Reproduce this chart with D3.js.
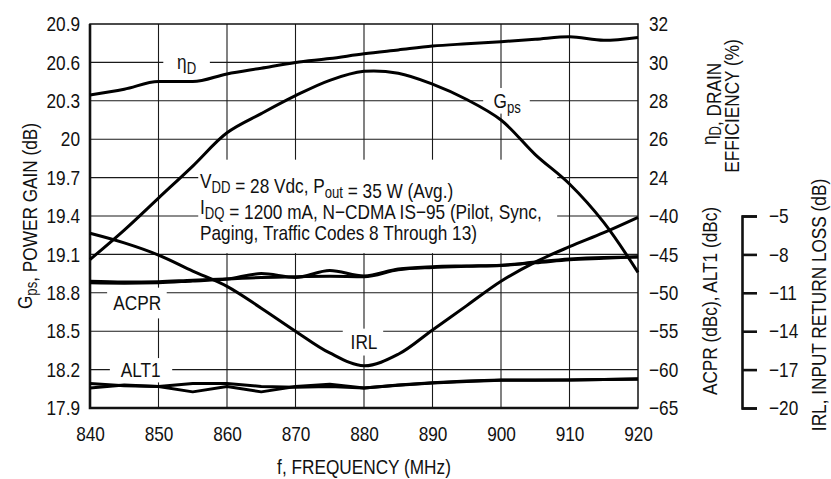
<!DOCTYPE html>
<html>
<head>
<meta charset="utf-8">
<script src="https://cdn.jsdelivr.net/npm/d3@7"></script>
<style>
  body { margin: 0; background: #fff; }
  svg { display: block; }
  text { font-family: "Liberation Sans", Arial, Helvetica, sans-serif; fill: #111; }
</style>
</head>
<body>
<svg id="chart" width="831" height="479"></svg>
<script>
// frequency sweep (MHz)
const freq = [840, 845, 850, 855, 860, 865, 870, 875, 880, 885, 890, 895, 900, 905, 910, 915, 920];
// power gain (dB)
const gps = [19.06, 19.29, 19.54, 19.79, 20.05, 20.2, 20.34, 20.46, 20.53, 20.515, 20.43, 20.31, 20.15, 19.88, 19.65, 19.35, 18.96];
// drain efficiency (%)
const eff = [28.3, 28.6, 29.0, 29.0, 29.4, 29.7, 30.0, 30.2, 30.45, 30.65, 30.85, 30.97, 31.08, 31.2, 31.33, 31.15, 31.3];
// input return loss (dB)
const irl = [-6.35, -7.1, -8.05, -9.3, -10.5, -12.2, -14.0, -15.7, -16.7, -15.8, -13.9, -12.0, -10.1, -8.6, -7.4, -6.3, -5.1];
// ACPR, two traces (dBc)
const acprA = [-48.7, -48.75, -48.7, -48.45, -48.2, -47.5, -48.0, -47.1, -47.8, -46.9, -46.6, -46.5, -46.4, -46.1, -45.7, -45.5, -45.3];
const acprB = [-48.5, -48.6, -48.55, -48.35, -48.2, -48.0, -47.9, -47.85, -47.9, -47.0, -46.7, -46.55, -46.45, -46.0, -45.6, -45.4, -45.35];
// ALT1, two traces (dBc)
const alt1A = [-61.8, -62.1, -62.2, -62.9, -62.2, -62.9, -62.2, -61.9, -62.4, -62.0, -61.7, -61.5, -61.35, -61.35, -61.35, -61.3, -61.2];
const alt1B = [-62.4, -62.0, -62.2, -61.8, -61.8, -62.2, -62.3, -62.2, -62.4, -62.05, -61.75, -61.55, -61.4, -61.4, -61.35, -61.3, -61.25];

// ticks
const freqTicks = [840, 850, 860, 870, 880, 890, 900, 910, 920];
const gainTicks = [17.9, 18.2, 18.5, 18.8, 19.1, 19.4, 19.7, 20.0, 20.3, 20.6, 20.9];
const gainTickLabels = ["17.9", "18.2", "18.5", "18.8", "19.1", "19.4", "19.7", "20", "20.3", "20.6", "20.9"];
const effTicks = [24, 26, 28, 30, 32];
const acprTicks = [-65, -60, -55, -50, -45, -40];
const irlTicks = [-20, -17, -14, -11, -8, -5];

const FS = 21;     // base font size
const SUB = 16;    // subscript size
const SQUEEZE = 0.82; // the reference font is a condensed sans
const M = { left: 90, top: 24, right: 638, bottom: 408 };

const svg = d3.select("#chart");

const x = d3.scaleLinear().domain([840, 920]).range([M.left, M.right]);
const yG = d3.scaleLinear().domain([17.9, 20.9]).range([M.bottom, M.top]);
const yEff = d3.scaleLinear().domain([12, 32]).range([M.bottom, M.top]);
const yAcpr = d3.scaleLinear().domain([-65, -15]).range([M.bottom, M.top]);
const yIrl = d3.scaleLinear().domain([-20, 10]).range([M.bottom, M.top]);

// grid
const grid = svg.append("g").attr("stroke", "#1a1a1a").attr("stroke-width", 1.1);
grid.selectAll("line.v")
  .data(freqTicks.slice(1, -1))
  .join("line")
  .attr("class", "v")
  .attr("x1", (d) => x(d))
  .attr("x2", (d) => x(d))
  .attr("y1", M.top)
  .attr("y2", M.bottom);
grid.selectAll("line.h")
  .data(gainTicks.slice(1, -1))
  .join("line")
  .attr("class", "h")
  .attr("x1", M.left)
  .attr("x2", M.right)
  .attr("y1", (d) => yG(d))
  .attr("y2", (d) => yG(d));

// white patches behind labels, placed in data units
const patches = [
  { f0: 850.7, f1: 857.5, g0: 20.69, g1: 20.51 }, // eta
  { f0: 897.4, f1: 904.2, g0: 20.40, g1: 20.20 }, // Gps
  { f0: 842.5, f1: 851.2, g0: 18.84, g1: 18.60 }, // ACPR
  { f0: 842.9, f1: 852.0, g0: 18.29, g1: 18.10 }, // ALT1
  { f0: 876.9, f1: 882.8, g0: 18.52, g1: 18.31 }, // IRL
  { f0: 855.8, f1: 908.2, g0: 19.84, g1: 19.11 }, // conditions
];
svg.append("g")
  .selectAll("rect")
  .data(patches)
  .join("rect")
  .attr("x", (d) => x(d.f0))
  .attr("y", (d) => yG(d.g0))
  .attr("width", (d) => x(d.f1) - x(d.f0))
  .attr("height", (d) => yG(d.g1) - yG(d.g0))
  .attr("fill", "#fff");

// frame
svg.append("rect")
  .attr("x", M.left).attr("y", M.top)
  .attr("width", M.right - M.left).attr("height", M.bottom - M.top)
  .attr("fill", "none").attr("stroke", "#111").attr("stroke-width", 1.5);
svg.append("path")
  .attr("d", `M${M.left},${M.top}V${M.bottom}H${M.right}`)
  .attr("fill", "none").attr("stroke", "#111").attr("stroke-width", 2.6);

// curves
function drawCurve(values, yScale, curve) {
  const line = d3.line()
    .x((d, i) => x(freq[i]))
    .y((d) => yScale(d))
    .curve(curve);
  svg.append("path")
    .datum(values)
    .attr("d", line)
    .attr("fill", "none")
    .attr("stroke", "#000")
    .attr("stroke-width", 3)
    .attr("stroke-linejoin", "round");
}
drawCurve(eff, yEff, d3.curveMonotoneX);
drawCurve(gps, yG, d3.curveCatmullRom);
drawCurve(irl, yIrl, d3.curveCatmullRom);
drawCurve(acprA, yAcpr, d3.curveMonotoneX);
drawCurve(acprB, yAcpr, d3.curveMonotoneX);
drawCurve(alt1A, yAcpr, d3.curveLinear);
drawCurve(alt1B, yAcpr, d3.curveLinear);

// axes
function styleAxis(g) {
  g.select(".domain").remove();
  g.attr("font-size", FS).attr("font-family", null);
  g.selectAll("text").attr("fill", "#111");
}
svg.append("g")
  .attr("transform", `translate(${M.left},0)`)
  .call(d3.axisLeft(yG).tickValues(gainTicks).tickFormat((d, i) => gainTickLabels[i]).tickSize(0).tickPadding(10))
  .call(styleAxis);
svg.append("g")
  .attr("transform", `translate(0,${M.bottom})`)
  .call(d3.axisBottom(x).tickValues(freqTicks).tickFormat(d3.format("d")).tickSize(0).tickPadding(18))
  .call(styleAxis);
svg.append("g")
  .attr("transform", `translate(${M.right},0)`)
  .call(d3.axisRight(yEff).tickValues(effTicks).tickFormat(d3.format("d")).tickSize(0).tickPadding(11))
  .call(styleAxis);
svg.append("g")
  .attr("transform", `translate(${M.right},0)`)
  .call(d3.axisRight(yAcpr).tickValues(acprTicks).tickFormat(d3.format("d")).tickSize(0).tickPadding(11))
  .call(styleAxis);

// IRL bracket axis
const yIrlAxis = yIrl.copy().domain([-20, -5]).range([yIrl(-20), yIrl(-5)]);
const irlAxis = svg.append("g")
  .attr("transform", "translate(742,0)")
  .call(d3.axisRight(yIrlAxis).tickValues(irlTicks).tickFormat(d3.format("d")).tickSizeInner(15).tickSizeOuter(15).tickPadding(12));
irlAxis.attr("font-size", FS).attr("font-family", null);
irlAxis.selectAll("text").attr("fill", "#111");
irlAxis.selectAll(".domain, line").attr("stroke", "#111").attr("stroke-width", 2.6);

// rich text helper: parts = [text, isSub]
function rich(sel, parts) {
  parts.forEach(([t, sub]) => {
    sel.append("tspan")
      .attr("font-size", sub ? SUB : null)
      .attr("dy", sub ? 5 : 0)
      .text(t);
    if (sub) sel.append("tspan").attr("dy", -5).text("");
  });
  return sel;
}

// curve labels
const labels = [
  { f: 854.1, g: 20.6, parts: [["η"], ["D", true]] },
  { f: 900.9, g: 20.3, parts: [["G"], ["ps", true]] },
  { f: 846.9, g: 18.72, parts: [["ACPR"]] },
  { f: 847.4, g: 18.2, parts: [["ALT1"]] },
  { f: 880, g: 18.416, parts: [["IRL"]] },
];
labels.forEach((l) => {
  const t = svg.append("text")
    .attr("x", x(l.f))
    .attr("y", yG(l.g) + 7)
    .attr("text-anchor", "middle")
    .attr("font-size", FS);
  rich(t, l.parts);
});

// test conditions
const notes = [
  [["V"], ["DD", true], [" = 28 Vdc, P"], ["out", true], [" = 35 W (Avg.)"]],
  [["I"], ["DQ", true], [" = 1200 mA, N\u2212CDMA IS\u221295 (Pilot, Sync,"]],
  [["Paging, Traffic Codes 8 Through 13)"]],
];
notes.forEach((parts, i) => {
  const t = svg.append("text")
    .attr("x", 200)
    .attr("y", 188 + i * 26)
    .attr("font-size", FS);
  rich(t, parts);
});

// axis titles
function vTitle(cx, cy, parts) {
  const t = svg.append("text")
    .attr("transform", `translate(${cx},${cy}) rotate(-90)`)
    .attr("text-anchor", "middle")
    .attr("font-size", FS);
  return rich(t, parts);
}
vTitle(32, 216, [["G"], ["ps", true], [", POWER GAIN (dB)"]]);
vTitle(716, 104, [["η"], ["D", true], [", DRAIN"]]);
vTitle(739, 106, [["EFFICIENCY (%)"]]);
vTitle(717, 301, [["ACPR (dBc), ALT1 (dBc)"]]);
vTitle(826, 305, [["IRL, INPUT RETURN LOSS (dB)"]]);

svg.append("text")
  .attr("x", (M.left + M.right) / 2)
  .attr("y", 474)
  .attr("text-anchor", "middle")
  .attr("font-size", FS)
  .text("f, FREQUENCY (MHz)");

// condense every text to mimic the narrow face of the reference
svg.selectAll("text").each(function () {
  const len = this.getComputedTextLength();
  d3.select(this)
    .attr("textLength", len * SQUEEZE)
    .attr("lengthAdjust", "spacingAndGlyphs");
});
</script>
</body>
</html>
